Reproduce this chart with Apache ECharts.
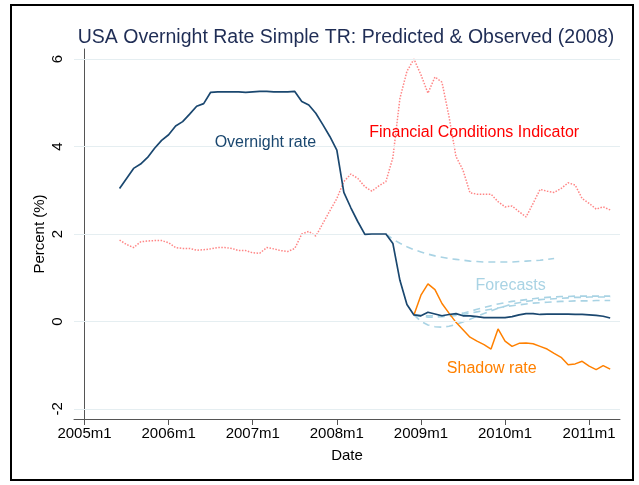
<!DOCTYPE html>
<html>
<head>
    <meta charset="utf-8">
    <title>USA Overnight Rate Simple TR</title>
    <script type="text/javascript" src="https://cdn.jsdelivr.net/npm/echarts@6/dist/echarts.min.js"></script>
    <style>
        html, body { margin: 0; padding: 0; background: #fff; }
    </style>
</head>
<body>
<div id="main" style="width:639px;height:485px;"></div>

<script type="text/javascript">
    // months counted from 2005m1 = 0
    var xTicks = [0, 12, 24, 36, 48, 60, 72];
    var yTicks = [-2, 0, 2, 4, 6];

    // overnight rate, from 2005m6
    var overnightStart = 5;
    var overnightVals = [3.04, 3.27, 3.50, 3.60, 3.75, 3.96, 4.14, 4.27, 4.47, 4.57, 4.74, 4.92, 4.98,
        5.24, 5.25, 5.25, 5.25, 5.25, 5.24, 5.25, 5.26, 5.26, 5.25, 5.25, 5.25, 5.26,
        5.03, 4.95, 4.76, 4.50, 4.23, 3.92, 2.95, 2.60, 2.28, 1.99, 2.00, 2.00, 2.00, 1.78,
        0.94, 0.39, 0.15, 0.13, 0.21, 0.17, 0.13, 0.16, 0.18, 0.13, 0.13, 0.11, 0.09, 0.09,
        0.09, 0.09, 0.11, 0.15, 0.18, 0.18, 0.16, 0.17, 0.17, 0.17, 0.17, 0.16, 0.16, 0.15,
        0.14, 0.12, 0.08];

    // financial conditions indicator, from 2005m6
    var fciStart = 5;
    var fciVals = [1.86, 1.76, 1.69, 1.82, 1.84, 1.85, 1.85, 1.80, 1.69, 1.67, 1.67, 1.63, 1.64,
        1.66, 1.69, 1.69, 1.67, 1.62, 1.62, 1.57, 1.56, 1.69, 1.66, 1.62, 1.60, 1.67,
        2.00, 2.06, 1.95, 2.24, 2.53, 2.81, 3.20, 3.37, 3.27, 3.08, 2.98, 3.10, 3.20, 3.75,
        5.10, 5.72, 6.00, 5.64, 5.22, 5.59, 5.47, 4.69, 3.77, 3.46, 2.94, 2.91, 2.91, 2.91,
        2.74, 2.62, 2.64, 2.51, 2.39, 2.70, 3.02, 2.98, 2.95, 3.04, 3.17, 3.12, 2.81, 2.70,
        2.57, 2.62, 2.55];

    // shadow rate, from 2008m12
    var shadowStart = 47;
    var shadowVals = [0.15, 0.60, 0.86, 0.73, 0.41, 0.19, -0.02, -0.19, -0.36, -0.45, -0.53, -0.63,
        -0.17, -0.45, -0.57, -0.50, -0.49, -0.51, -0.57, -0.63, -0.73, -0.82, -0.99, -0.97,
        -0.91, -1.02, -1.10, -1.01, -1.09];

    // forecasts
    var fc1Start = 43;
    var fc1Vals = [2.00, 1.88, 1.79, 1.71, 1.64, 1.59, 1.54, 1.50, 1.47, 1.44, 1.42, 1.40, 1.38,
        1.37, 1.36, 1.36, 1.36, 1.36, 1.36, 1.37, 1.38, 1.39, 1.40, 1.42, 1.44];
    var fc2Start = 47;
    var fc2Vals = [0.15, 0.00, -0.08, -0.12, -0.13, -0.11, -0.07, -0.01, 0.05, 0.12, 0.18, 0.24,
        0.30, 0.35, 0.40, 0.43, 0.46, 0.48, 0.50, 0.51, 0.52, 0.53, 0.54, 0.55, 0.55, 0.56,
        0.56, 0.56, 0.56];
    var fc3Start = 47;
    var fc3Vals = [0.15, 0.14, 0.13, 0.13, 0.13, 0.14, 0.16, 0.19, 0.23, 0.28, 0.32, 0.36, 0.40,
        0.43, 0.46, 0.48, 0.50, 0.52, 0.54, 0.55, 0.56, 0.57, 0.57, 0.58, 0.58, 0.58, 0.58,
        0.58, 0.58];
    var fc4Start = 47;
    var fc4Vals = [0.15, 0.12, 0.10, 0.10, 0.11, 0.12, 0.14, 0.16, 0.19, 0.22, 0.25, 0.28, 0.31,
        0.34, 0.36, 0.38, 0.40, 0.42, 0.43, 0.44, 0.45, 0.46, 0.46, 0.47, 0.47, 0.47, 0.48,
        0.48, 0.48];

    function pairs(start, vals) {
        return vals.map(function (v, i) { return [start + i, v]; });
    }

    var FONT = '"Liberation Sans", Arial, Helvetica, sans-serif';
    var NAVY = '#1a476f';
    var FC_COLOR = '#a9d3e4';

    // text label placed on the plot through data coords
    function tag(text, coord, color) {
        return {
            symbol: 'rect',
            symbolSize: 1,
            silent: true,
            itemStyle: { color: 'transparent' },
            label: {
                show: true,
                position: 'inside',
                formatter: text,
                color: color,
                fontSize: 16,
                fontFamily: FONT
            },
            data: [{ coord: coord }]
        };
    }

    function fcSeries(start, vals) {
        return {
            type: 'line',
            data: pairs(start, vals),
            symbol: 'none',
            z: 2,
            lineStyle: { color: FC_COLOR, width: 1.6, type: [7, 5] }
        };
    }

    var chart = echarts.init(document.getElementById('main'), null, { renderer: 'canvas' });

    var option = {
        animation: false,
        backgroundColor: '#fff',
        title: {
            text: 'USA Overnight Rate Simple TR: Predicted & Observed (2008)',
            left: 341,
            textAlign: 'center',
            top: 23,
            textStyle: { color: '#1f2d55', fontSize: 19.5, fontWeight: 'normal', fontFamily: FONT }
        },
        graphic: [{
            type: 'rect',
            shape: { x: 11, y: 5, width: 622, height: 475 },
            style: { fill: 'none', stroke: '#000', lineWidth: 2 },
            silent: true
        }],
        grid: { left: 74, right: 19, top: 49, bottom: 66 },
        xAxis: {
            type: 'value',
            min: -1.5,
            max: 76.4,
            name: 'Date',
            nameLocation: 'middle',
            nameGap: 29,
            nameTextStyle: { color: '#000', fontSize: 15, fontFamily: FONT },
            axisLine: { onZero: false, lineStyle: { color: '#555', width: 1 } },
            axisTick: { customValues: xTicks, length: 6, lineStyle: { color: '#555' } },
            axisLabel: {
                customValues: xTicks,
                color: '#000',
                fontSize: 15,
                fontFamily: FONT,
                margin: 7,
                formatter: function (v) { return (2005 + Math.round(v / 12)) + 'm1'; }
            },
            splitLine: { show: false }
        },
        yAxis: {
            type: 'value',
            min: -2.23,
            max: 6.23,
            name: 'Percent (%)',
            nameLocation: 'middle',
            nameRotate: 90,
            nameGap: 27,
            nameMoveOverlap: false,
            nameTextStyle: { color: '#000', fontSize: 15, fontFamily: FONT },
            axisLine: { show: true, lineStyle: { color: '#555', width: 1 } },
            axisTick: { show: true, customValues: yTicks, length: 6, lineStyle: { color: '#555' } },
            axisLabel: {
                customValues: yTicks,
                rotate: 90,
                color: '#000',
                fontSize: 15,
                fontFamily: FONT,
                margin: 9
            },
            splitLine: { show: false }
        },
        series: [
            {
                // gridlines
                type: 'line',
                data: [],
                silent: true,
                z: 1,
                markLine: {
                    silent: true,
                    symbol: 'none',
                    label: { show: false },
                    lineStyle: { color: '#e5eef1', width: 1.2, type: 'solid' },
                    data: yTicks.map(function (v) { return { yAxis: v }; })
                }
            },
            {
                name: 'Financial Conditions Indicator',
                type: 'line',
                data: pairs(fciStart, fciVals),
                symbol: 'none',
                z: 3,
                lineStyle: { color: '#ff8585', width: 1.5, type: 'dotted' },
                markPoint: tag('Financial Conditions Indicator', [55.6, 4.31], '#ff0000')
            },
            fcSeries(fc1Start, fc1Vals),
            fcSeries(fc2Start, fc2Vals),
            fcSeries(fc3Start, fc3Vals),
            Object.assign(fcSeries(fc4Start, fc4Vals), {
                markPoint: tag('Forecasts', [60.8, 0.83], FC_COLOR)
            }),
            {
                name: 'Shadow rate',
                type: 'line',
                data: pairs(shadowStart, shadowVals),
                symbol: 'none',
                z: 4,
                lineStyle: { color: '#ff8000', width: 1.5 },
                markPoint: tag('Shadow rate', [58.1, -1.07], '#ff8000')
            },
            {
                name: 'Overnight rate',
                type: 'line',
                data: pairs(overnightStart, overnightVals),
                symbol: 'none',
                z: 5,
                lineStyle: { color: NAVY, width: 1.7 },
                markPoint: tag('Overnight rate', [25.8, 4.08], NAVY)
            }
        ]
    };

    chart.setOption(option);
</script>
</body>
</html>
